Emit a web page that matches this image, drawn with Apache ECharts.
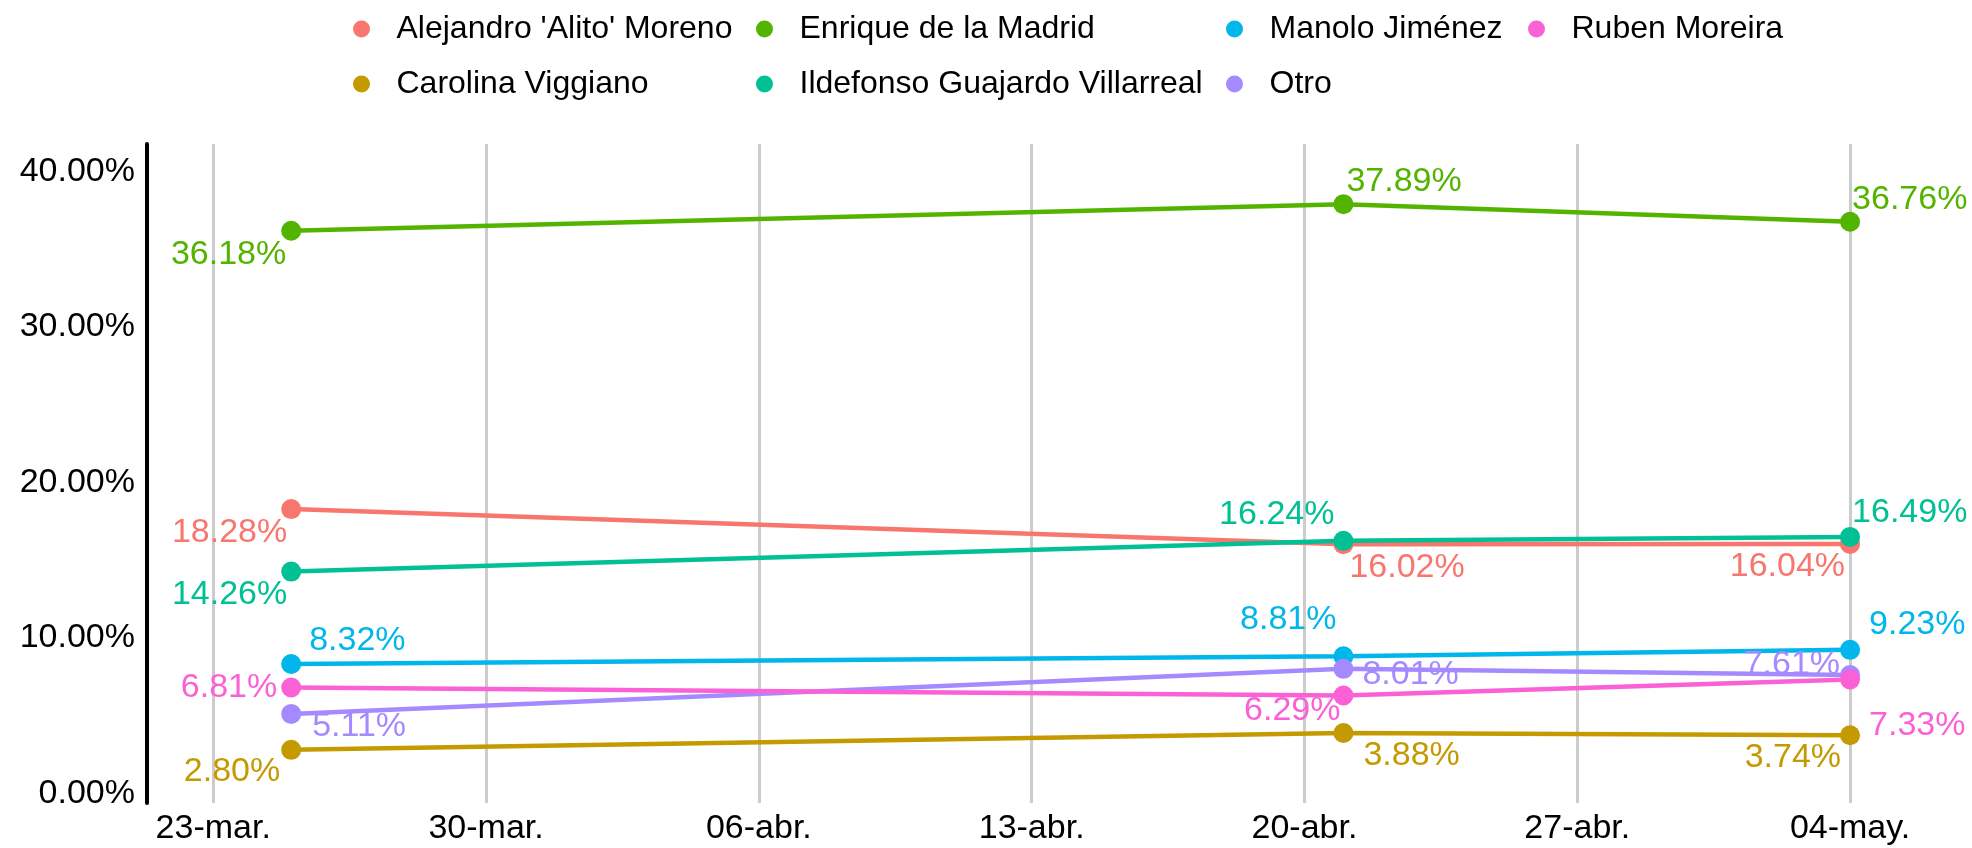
<!DOCTYPE html>
<html>
<head>
<meta charset="utf-8">
<title>Encuestas PRI</title>
<script src="https://cdn.jsdelivr.net/npm/echarts@6/dist/echarts.min.js"></script>
<style>
html, body { margin: 0; padding: 0; background: #ffffff; }
#main { width: 1972px; height: 848px; }
</style>
</head>
<body>
<div id="main"></div>
<script>
// fechas de las encuestas
var pollDates = ['2019-03-25', '2019-04-21', '2019-05-04'];

// eje x: semanas
var tickDates = ['2019-03-23', '2019-03-30', '2019-04-06', '2019-04-13', '2019-04-20', '2019-04-27', '2019-05-04'];
var tickLabels = ['23-mar.', '30-mar.', '06-abr.', '13-abr.', '20-abr.', '27-abr.', '04-may.'];

// eje y
var yTicks = [0, 10, 20, 30, 40];

// candidatos (orden alfabetico, como la leyenda)
var candidates = [
	"Alejandro 'Alito' Moreno",
	'Carolina Viggiano',
	'Enrique de la Madrid',
	'Ildefonso Guajardo Villarreal',
	'Manolo Jiménez',
	'Otro',
	'Ruben Moreira'
];

var alitoMoreno = [18.28, 16.02, 16.04];
var carolinaViggiano = [2.80, 3.88, 3.74];
var enriqueMadrid = [36.18, 37.89, 36.76];
var ildefonsoGuajardo = [14.26, 16.24, 16.49];
var manoloJimenez = [8.32, 8.81, 9.23];
var otro = [5.11, 8.01, 7.61];
var rubenMoreira = [6.81, 6.29, 7.33];

var seriesValues = [alitoMoreno, carolinaViggiano, enriqueMadrid, ildefonsoGuajardo, manoloJimenez, otro, rubenMoreira];

var colors = ['#F8766D', '#C49A00', '#53B400', '#00C094', '#00B6EB', '#A58AFF', '#FB61D7'];

// donde va cada etiqueta respecto a su punto: [align, dx, dy]
var labelPlace = [
	[['right', -4, 24], ['left', 6, 23], ['right', -5, 23]],
	[['right', -11, 22], ['left', 20, 23], ['right', -9, 22]],
	[['right', -5, 24], ['left', 3, -23], ['left', 2, -22]],
	[['right', -4, 23], ['right', -9, -26], ['left', 2, -24]],
	[['left', 18, -23], ['right', -7, -37], ['left', 19, -25]],
	[['left', 21, 13], ['left', 19, 6], ['right', -10, -10]],
	[['right', -14, 0], ['right', -3, 15], ['left', 19, 46]]
];

var BASE = Date.UTC(2019, 2, 23);
function dayOffset(s){
	var p = s.split('-');
	return (Date.UTC(+p[0], +p[1] - 1, +p[2]) - BASE) / 86400000;
}

var pollX = pollDates.map(dayOffset);
var tickX = tickDates.map(dayOffset);

var FONT = "'Liberation Sans', Arial, sans-serif";

var series = candidates.map(function(name, i){
	return {
		name: name,
		type: 'line',
		symbol: 'circle',
		symbolSize: 20,
		color: colors[i],
		lineStyle: { width: 4.5, color: colors[i] },
		emphasis: { disabled: true },
		data: seriesValues[i].map(function(v, j){
			var lp = labelPlace[i][j];
			return {
				value: [pollX[j], v],
				label: {
					show: true,
					position: 'inside',
					align: lp[0],
					verticalAlign: 'middle',
					offset: [lp[1], lp[2]],
					color: colors[i],
					fontSize: 34,
					fontFamily: FONT,
					formatter: function(p){ return p.value[1].toFixed(2) + '%'; }
				}
			};
		})
	};
});

// leyenda en 4 columnas
var legendCols = [[0, 1], [2, 3], [4, 5], [6]];
var legendLeft = [348, 751, 1221, 1523];
var legends = legendCols.map(function(col, k){
	return {
		orient: 'vertical',
		left: legendLeft[k],
		top: 7,
		icon: 'circle',
		itemWidth: 60,
		itemHeight: 17,
		itemGap: 21,
		textStyle: { fontSize: 32, fontFamily: FONT, color: '#000', lineHeight: 34 },
		data: col.map(function(i){ return candidates[i]; })
	};
});

var chart = echarts.init(document.getElementById('main'));
chart.setOption({
	animation: false,
	backgroundColor: '#ffffff',
	legend: legends,
	grid: { left: 147, right: 44, top: 144, bottom: 45, containLabel: false },
	xAxis: {
		type: 'value',
		min: -1.7,
		max: 44,
		axisLine: { show: false, onZero: false },
		axisTick: { show: false, customValues: tickX },
		splitLine: { show: true, lineStyle: { color: '#cccccc', width: 3 } },
		axisLabel: {
			customValues: tickX,
			margin: 9,
			fontSize: 34,
			fontFamily: FONT,
			color: '#000',
			formatter: function(v){
				var k = tickX.indexOf(v);
				return k >= 0 ? tickLabels[k] : '';
			}
		}
	},
	yAxis: {
		type: 'value',
		min: -0.62,
		max: 41.76,
		axisLine: { show: true, onZero: false, lineStyle: { color: '#000', width: 4 } },
		axisTick: { show: false, customValues: yTicks },
		splitLine: { show: false },
		axisLabel: {
			customValues: yTicks,
			margin: 12,
			fontSize: 34,
			fontFamily: FONT,
			color: '#000',
			formatter: function(v){ return v.toFixed(2) + '%'; }
		}
	},
	series: series
});
</script>
</body>
</html>
